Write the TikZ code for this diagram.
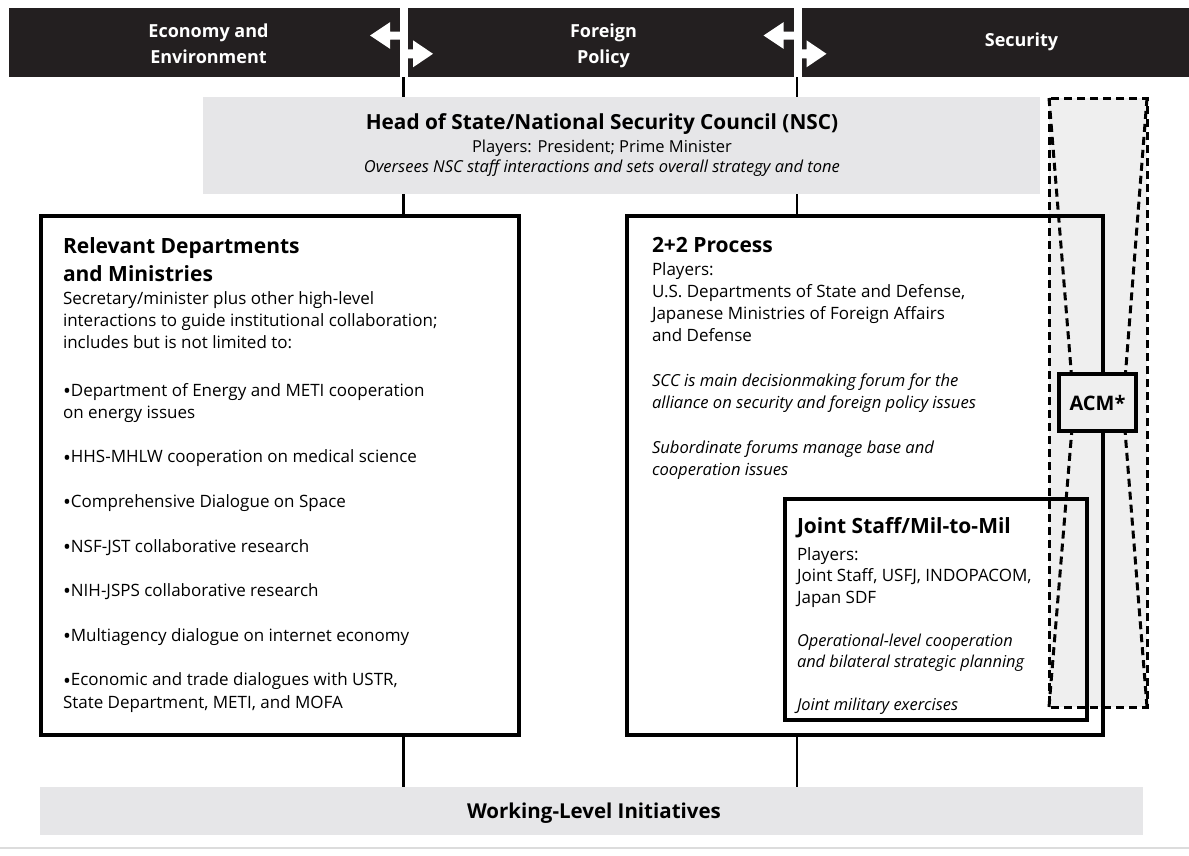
\documentclass[tikz,border=0pt]{standalone}
\usepackage{fontspec}
\setmainfont{Open Sans}
\definecolor{bandblack}{HTML}{231F20}
\definecolor{panelgray}{HTML}{E6E6E8}
\definecolor{zonegray}{HTML}{EFEFEF}
\definecolor{rulegray}{HTML}{DCDCDC}
\newcommand{\itemdot}{\raisebox{-2.2pt}{\fontsize{21}{22.3}\selectfont•}}
\begin{document}
\begin{tikzpicture}[x=1pt,y=-1pt,
  every node/.style={inner sep=0pt, outer sep=0pt},
  panel/.style={rectangle, draw=black, line width=4pt},
  wire/.style={draw=black, line width=2.2pt},
  zonedash/.style={draw=black, line width=3pt, dash pattern=on 8pt off 5pt},
  bartxt/.style={text=white, font=\fontsize{18}{25.5}\selectfont\bfseries, align=center, anchor=base},
  headtxt/.style={anchor=base west, align=left, font=\fontsize{21}{28}\selectfont\bfseries},
  bodytxt/.style={anchor=base west, align=left, font=\fontsize{17}{22.3}\selectfont},
  bodyit/.style={anchor=base west, align=left, font=\fontsize{16.6}{22.3}\selectfont\itshape},
  jointtxt/.style={anchor=base west, align=left, font=\fontsize{17}{21.5}\selectfont},
  jointit/.style={anchor=base west, align=left, font=\fontsize{16.4}{21.5}\selectfont\itshape},
]
\useasboundingbox (0,0) rectangle (1189,855);
\fill[white] (0,0) rectangle (1189,855);

% ---- top band with the three policy areas ----
\node[fill=bandblack, minimum width=1180pt, minimum height=69pt] (band) at (599,42.5) {};
\foreach \g in {404,797.5} {
  \fill[white] (\g-4,8) rectangle (\g+4,77);
  % left-pointing arrow
  \fill[white] (\g-3,31.5) -- (\g-14,31.5) -- (\g-14,22.2) -- (\g-34,35.5)
     -- (\g-14,48.8) -- (\g-14,39.5) -- (\g-3,39.5) -- cycle;
  % right-pointing arrow
  \fill[white] (\g+3,49.3) -- (\g+9,49.3) -- (\g+9,40.3) -- (\g+29,53.8)
     -- (\g+9,67.3) -- (\g+9,58.3) -- (\g+3,58.3) -- cycle;
}
% multi-line nodes are placed by the baseline of their last line
\node[bartxt] (econ) at (208.5,63) {Economy and\\Environment};
\node[bartxt] (forpol) at (603.5,63) {Foreign\\Policy};
\node[bartxt] (secur) at (1021.5,46) {Security};

% ---- head of state / NSC ----
\node[fill=panelgray, minimum width=837pt, minimum height=97pt] (nsc) at (621.5,145.5) {};
\node[anchor=base, font=\fontsize{20.8}{24}\selectfont\bfseries] (nsctitle) at (602,129)
  {Head of State/National Security Council (NSC)};
\node[anchor=base, font=\fontsize{16.5}{20}\selectfont] (nscplayers) at (602,152)
  {Players: President; Prime Minister};
\node[anchor=base, font=\fontsize{16.5}{20}\selectfont\itshape] (nscrole) at (602,172.5)
  {Oversees NSC staff interactions and sets overall strategy and tone};

% ---- security zone (shaded, dashed) ----
\node[fill=zonegray, minimum width=98pt, minimum height=609pt] (zone) at (1098,402.5) {};

% ---- main panels ----
\node[panel, minimum width=478pt, minimum height=519pt] (dept) at (280,475.5) {};
\node[panel, minimum width=476pt, minimum height=519.5pt] (twoplus) at (865,475.25) {};
\node[panel, minimum width=302pt, minimum height=221pt] (joint) at (936,609.5) {};

% ---- ACM box and its dashed links ----
\coordinate (acmc) at (1097.5,402.5);
\draw[zonedash] (zone.north west) rectangle (zone.south east);
\draw[zonedash] (zone.north west) -- ([shift={(-21.5pt,-28.5pt)}]acmc);
\draw[zonedash] (zone.north east) -- ([shift={(23.5pt,-28.5pt)}]acmc);
\draw[zonedash] (zone.south west) -- ([shift={(-21pt,28.5pt)}]acmc);
\draw[zonedash] (zone.south east) -- ([shift={(23pt,28.5pt)}]acmc);
\node[panel, fill=zonegray, minimum width=77pt, minimum height=57pt,
  font=\fontsize{20}{24}\selectfont\bfseries] (acm) at (acmc) {ACM*};

% ---- working level ----
\node[fill=panelgray, minimum width=1103pt, minimum height=48pt] (wl) at (591.5,811) {};
\node[anchor=base, font=\fontsize{20.5}{24}\selectfont\bfseries] (wltext) at (594,818)
  {Working-Level Initiatives};

% ---- connectors ----
\coordinate (cl) at (403.5,0);
\coordinate (cr) at (797,0);
\draw[wire] (band.south -| cl) -- (nsc.north -| cl);
\draw[wire] (band.south -| cr) -- (nsc.north -| cr);
\draw[wire] (nsc.south -| cl) -- (dept.north -| cl);
\draw[wire] (nsc.south -| cr) -- (twoplus.north -| cr);
\draw[wire] (dept.south -| cl) -- (wl.north -| cl);
\draw[wire] (twoplus.south -| cr) -- (wl.north -| cr);

% ---- departments and ministries ----
\node[headtxt] (depttitle) at (63,281) {Relevant Departments\\and Ministries};
\node[bodytxt] (deptintro) at (63,348.6) {Secretary/minister plus other high-level\\interactions to guide institutional collaboration;\\includes but is not limited to:};
\node[bodytxt] (deptlist) at (63,708.2) {\itemdot Department of Energy and METI cooperation\\on energy issues\\[22.3pt]\itemdot HHS-MHLW cooperation on medical science\\[22.3pt]\itemdot Comprehensive Dialogue on Space\\[22.3pt]\itemdot NSF-JST collaborative research\\[22.3pt]\itemdot NIH-JSPS collaborative research\\[22.3pt]\itemdot Multiagency dialogue on internet economy\\[22.3pt]\itemdot Economic and trade dialogues with USTR,\\State Department, METI, and MOFA};

% ---- 2+2 process ----
\node[headtxt] (tptitle) at (652,252.7) {2+2 Process};
\node[bodytxt] (tpplayers) at (652,341.9) {Players:\\U.S. Departments of State and Defense,\\Japanese Ministries of Foreign Affairs\\and Defense};
\node[bodyit] (tpscc) at (652,408.8) {SCC is main decisionmaking forum for the\\alliance on security and foreign policy issues};
\node[bodyit] (tpsub) at (652,475.7) {Subordinate forums manage base and\\cooperation issues};

% ---- joint staff ----
\node[headtxt] (jstitle) at (797,533) {Joint Staff/Mil-to-Mil};
\node[jointtxt] (jsplayers) at (797,603) {Players:\\Joint Staff, USFJ, INDOPACOM,\\Japan SDF};
\node[jointit] (jsops) at (797,667.5) {Operational-level cooperation\\and bilateral strategic planning};
\node[jointit] (jsex) at (797,710.5) {Joint military exercises};

% ---- bottom rule ----
\draw[line width=2pt, rulegray] (0,848) -- (1189,848);
\end{tikzpicture}
\end{document}
